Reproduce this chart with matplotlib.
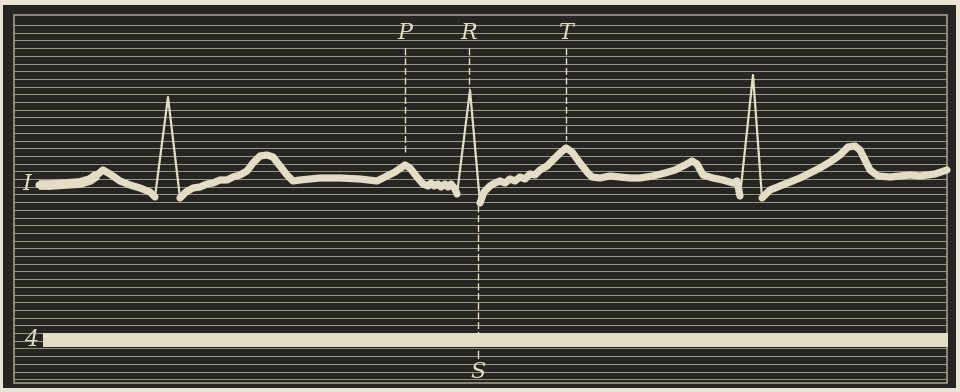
import matplotlib.pyplot as plt
import numpy as np
from matplotlib.patches import Rectangle

# ECG trace, lead I, in plate coordinates (x = time, y = deflection, downwards)
wave_a_x = [39, 50, 65, 80, 90, 97, 103, 110, 120, 130, 140, 150, 155]
wave_a_y = [185, 185, 184, 183, 180, 175, 170, 174, 181, 185, 188, 192, 197]

wave_b_x = [180, 186, 193, 200, 207, 213, 220, 227, 233, 240, 247, 253, 260,
            267, 273, 280, 287, 293, 300, 310, 320, 340, 360, 377, 385, 395,
            405, 410, 417, 423, 428, 431, 434, 438, 441, 445, 448, 451, 455, 457]
wave_b_y = [198, 192, 188, 187, 184, 183, 180, 180, 177, 175, 171, 163, 156,
            155, 157, 166, 175, 181, 180, 179, 178, 178, 179, 181, 177, 172,
            165, 168, 177, 184, 186, 183, 186, 184, 187, 184, 187, 184, 189, 194]

wave_c_x = [480, 484, 490, 495, 500, 505, 510, 515, 520, 525, 530, 535, 540,
            547, 553, 560, 566, 572, 580, 587, 592, 600, 610, 620, 630, 640,
            653, 665, 675, 685, 692, 697, 703, 713, 723, 733, 737, 740]
wave_c_y = [203, 192, 186, 183, 181, 183, 179, 181, 177, 179, 174, 175, 170,
            166, 160, 153, 148, 152, 163, 172, 177, 178, 176, 177, 178, 178,
            176, 173, 170, 165, 161, 164, 175, 178, 180, 183, 181, 196]

wave_d_x = [762, 770, 780, 790, 800, 810, 820, 830, 840, 848, 855, 860, 865,
            870, 878, 890, 900, 910, 920, 935, 947]
wave_d_y = [198, 190, 186, 182, 178, 173, 168, 162, 155, 147, 146, 150, 160,
            170, 176, 177, 176, 175, 176, 174, 170]

# QRS complexes: Q, R, S
qrs_x = [[155, 168, 180], [457, 470, 480], [740, 753, 762]]
qrs_y = [[197, 97, 198], [194, 90, 203], [196, 75, 198]]

# wave markers
marker_labels = ['P', 'R', 'T']
marker_x = [405, 469, 566]
marker_tip_y = [152, 88, 140]

s_x = 478

paper = '#e9e4d4'
dark = '#262521'
rule = '#9e9a89'
ink = '#e4ddc6'

fig = plt.figure(figsize=(9.6, 3.92), dpi=100, facecolor=paper)
ax = fig.add_axes([0, 0, 1, 1])
ax.set_xlim(0, 960)
ax.set_ylim(392, 0)
ax.axis('off')

ax.add_patch(Rectangle((3, 5), 953, 383, facecolor=dark, edgecolor='none', zorder=0))
ax.add_patch(Rectangle((14, 15), 933, 368, facecolor='none', edgecolor=rule, lw=1.2, zorder=1))

# horizontal ruling
for y in np.arange(25, 380, 7.7):
    ax.plot([14, 947], [y, y], color=rule, lw=0.7, zorder=1)

# time bar
ax.add_patch(Rectangle((43, 333), 905, 14, facecolor=ink, edgecolor='none', zorder=3))

# trace
for xs, ys in [(wave_a_x, wave_a_y), (wave_b_x, wave_b_y),
               (wave_c_x, wave_c_y), (wave_d_x, wave_d_y)]:
    ax.plot(xs, ys, color=ink, lw=5.2, solid_joinstyle='round',
            solid_capstyle='round', zorder=4)
ax.plot(wave_a_x[:6], wave_a_y[:6], color=ink, lw=7, solid_capstyle='butt', zorder=4)
for xs, ys in zip(qrs_x, qrs_y):
    ax.plot(xs, ys, color=ink, lw=1.6, zorder=4)

# dashed guides and labels
font = dict(color=ink, fontsize=16, family='DejaVu Serif', style='italic',
            ha='center', va='center', zorder=5)
for lab, x, tip in zip(marker_labels, marker_x, marker_tip_y):
    ax.plot([x, x], [48, tip], color=ink, lw=1, ls=(0, (5, 2)), zorder=2)
    ax.text(x, 33, lab, **font)
ax.plot([s_x, s_x], [205, 333], color=ink, lw=1, ls=(0, (5, 2)), zorder=2)
ax.plot([s_x, s_x], [351, 358], color=ink, lw=1, zorder=2)
ax.text(s_x, 372, 'S', **font)

ax.text(27, 184, 'I', **font)
ax.text(31, 340, '4', **font)

fig.savefig('out.png', dpi=100, facecolor=paper)
